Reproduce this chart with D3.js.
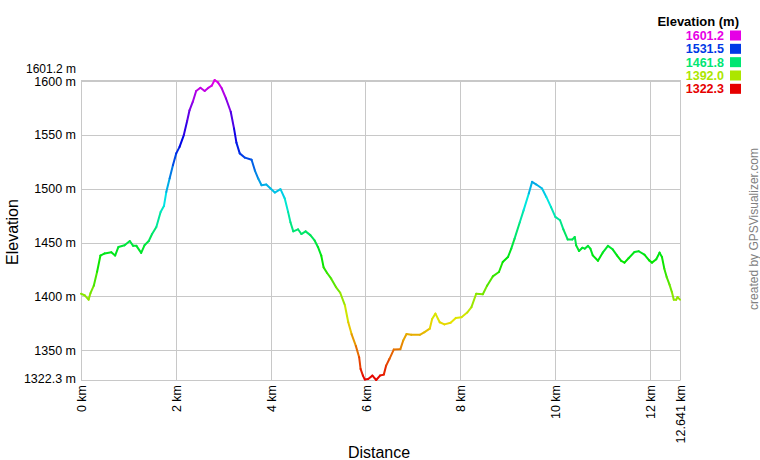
<!DOCTYPE html>
<html>
<head>
<meta charset="utf-8">
<script src="https://cdn.jsdelivr.net/npm/d3@7"></script>
<style>
  html, body { margin: 0; padding: 0; background: #fff; }
  svg { display: block; font-family: "Liberation Sans", Arial, sans-serif; }
</style>
</head>
<body>
<svg id="chart" width="760" height="460"></svg>
<script>
// ---- data ----
const distanceKm = [0, 0.08, 0.16, 0.2, 0.27, 0.34, 0.41, 0.5, 0.64, 0.72, 0.79, 0.92, 1.03, 1.10, 1.17, 1.27, 1.34, 1.43, 1.50, 1.59,
  1.68, 1.75, 1.80, 1.87, 1.94, 2.01, 2.08, 2.17, 2.24, 2.29, 2.36, 2.43, 2.52, 2.61, 2.69, 2.76, 2.82, 2.89, 2.97, 3.06,
  3.16, 3.23, 3.28, 3.35, 3.46, 3.60, 3.67, 3.74, 3.81, 3.91, 4.00, 4.09, 4.21, 4.30, 4.37, 4.42, 4.48, 4.58, 4.65, 4.74,
  4.84, 4.93, 5.00, 5.07, 5.12, 5.19, 5.28, 5.38, 5.47, 5.57, 5.64, 5.71, 5.80, 5.87, 5.90, 5.95, 5.99, 6.06, 6.15, 6.23,
  6.31, 6.39, 6.44, 6.51, 6.60, 6.74, 6.80, 6.87, 6.97, 7.15, 7.25, 7.36, 7.41, 7.48, 7.57, 7.67, 7.80, 7.91, 8.03, 8.15,
  8.24, 8.34, 8.48, 8.57, 8.69, 8.82, 8.90, 9.01, 9.08, 9.15, 9.26, 9.34, 9.45, 9.52, 9.61, 9.73, 9.82, 9.92, 10.01, 10.11,
  10.18, 10.27, 10.37, 10.42, 10.45, 10.51, 10.58, 10.63, 10.70, 10.75, 10.80, 10.91, 11.01, 11.12, 11.22, 11.31, 11.40, 11.47, 11.56, 11.68,
  11.77, 11.89, 11.99, 12.05, 12.14, 12.21, 12.26, 12.31, 12.36, 12.42, 12.47, 12.51, 12.56, 12.59, 12.641];
const elevationM = [1402.5, 1401, 1397, 1403, 1410, 1423, 1438, 1440, 1441, 1438, 1446, 1447.5, 1451.5, 1447, 1447, 1440.5, 1447.5, 1451.5, 1458, 1464.5,
  1478.5, 1484, 1497, 1509.6, 1522, 1533, 1539, 1550, 1563, 1573, 1581, 1591, 1594, 1591, 1594, 1596, 1601.2, 1599, 1593.5, 1584,
  1571.7, 1556, 1543, 1533, 1529, 1527, 1517, 1509.6, 1503.4, 1504, 1500.3, 1496.6, 1499.7, 1491, 1478.6, 1469, 1460.5, 1462.4, 1458, 1460.5,
  1457, 1452, 1446, 1438, 1427, 1422, 1416.5, 1408.7, 1403.4, 1391.6, 1376, 1365, 1354, 1343.5, 1332.6, 1326.4, 1322.7, 1323.3, 1326.4, 1322.3,
  1326.4, 1327.3, 1335.7, 1342, 1350.6, 1351, 1359, 1365, 1364.3, 1364.3, 1366.8, 1370, 1379, 1384, 1376, 1374, 1375.5, 1380, 1380.7, 1385,
  1390, 1402.5, 1402, 1410, 1418.6, 1422.7, 1432, 1436.6, 1444.4, 1453.7, 1469, 1480, 1495.7, 1506.5, 1504, 1500.3, 1492.5, 1483, 1474, 1470.8,
  1462.4, 1453, 1453, 1455.3, 1447.5, 1442.2, 1445.3, 1444.4, 1447, 1444.4, 1438.2, 1433.2, 1440.7, 1447, 1443.8, 1438.2, 1433, 1431.4, 1435.7, 1441.3,
  1442, 1438.8, 1433.5, 1431.4, 1434.5, 1440.7, 1436.6, 1425.8, 1418, 1411, 1404, 1397, 1397, 1399.4, 1397];

const xTicks = [0, 2, 4, 6, 8, 10, 12, 12.641];
const xTickLabels = ["0 km", "2 km", "4 km", "6 km", "8 km", "10 km", "12 km", "12.641 km"];
const yTicks = [1350, 1400, 1450, 1500, 1550, 1600];
const yMin = 1322.3, yMax = 1601.2;
const legendValues = [1601.2, 1531.5, 1461.8, 1392.0, 1322.3];

// ---- layout ----
const svg = d3.select("#chart");
const plotLeft = 81, plotRight = 680, plotTop = 80, plotBottom = 380;

const x = d3.scaleLinear().domain([0, 12.641]).range([plotLeft, plotRight]);
const y = d3.scaleLinear().domain([yMin, yMax]).range([plotBottom, plotTop]);
const hue = d3.scaleLinear().domain([yMin, yMax]).range([0, 300]);
const colorOf = v => d3.hsl(hue(v), 1, 0.45).formatHex();

const gridColor = "#c8c8c8";

// horizontal grid
const gGrid = svg.append("g");
[yMin, ...yTicks, yMax].forEach(v => {
  gGrid.append("line")
    .attr("x1", plotLeft).attr("x2", plotRight)
    .attr("y1", Math.round(y(v)) + 0.5).attr("y2", Math.round(y(v)) + 0.5)
    .attr("stroke", gridColor).attr("stroke-width", 1);
});
// vertical grid
xTicks.forEach(v => {
  gGrid.append("line")
    .attr("x1", Math.round(x(v)) + 0.5).attr("x2", Math.round(x(v)) + 0.5)
    .attr("y1", plotTop).attr("y2", plotBottom + 0.5)
    .attr("stroke", gridColor).attr("stroke-width", 1);
});

// y tick labels
const yLab = svg.append("g").attr("font-size", "12.5px").attr("fill", "#000").attr("text-anchor", "end");
yTicks.forEach(v => {
  yLab.append("text").attr("x", 76).attr("y", y(v)).attr("dy", "0.35em").text(v + " m");
});
yLab.append("text").attr("x", 76).attr("y", y(yMax) - 11).attr("dy", "0.35em").attr("font-size", "12px").text(yMax.toFixed(1) + " m");
yLab.append("text").attr("x", 76).attr("y", y(yMin) - 1).attr("dy", "0.35em").text(yMin.toFixed(1) + " m");

// x tick labels
const xLab = svg.append("g").attr("font-size", "12.5px").attr("fill", "#000");
xTicks.forEach((v, i) => {
  const px = x(v) + 1;
  xLab.append("text")
    .attr("transform", `translate(${px},385) rotate(-90)`)
    .attr("text-anchor", "end").attr("dy", "0.35em")
    .text(xTickLabels[i]);
});

// profile line, coloured by elevation
const pts = distanceKm.map((d, i) => [d, elevationM[i]]);
const gLine = svg.append("g");
for (let i = 0; i < pts.length - 1; i++) {
  const a = pts[i], b = pts[i + 1];
  gLine.append("line")
    .attr("x1", x(a[0])).attr("y1", y(a[1]))
    .attr("x2", x(b[0])).attr("y2", y(b[1]))
    .attr("stroke", colorOf((a[1] + b[1]) / 2))
    .attr("stroke-width", 2)
    .attr("stroke-linecap", "round");
}

// axis titles
svg.append("text").attr("x", 379).attr("y", 458).attr("text-anchor", "middle")
  .attr("font-size", "16px").text("Distance");
svg.append("text").attr("transform", "translate(18,232) rotate(-90)")
  .attr("text-anchor", "middle").attr("font-size", "16px").text("Elevation");

// credit
svg.append("text").attr("transform", "translate(758,229) rotate(-90)")
  .attr("text-anchor", "middle").attr("font-size", "12px").attr("fill", "#808080")
  .text("created by GPSVisualizer.com");

// legend
svg.append("text").attr("x", 739).attr("y", 26).attr("text-anchor", "end")
  .attr("font-size", "13px").attr("font-weight", "bold").text("Elevation (m)");
legendValues.forEach((v, i) => {
  const by = 40 + i * 13.33;
  svg.append("text").attr("x", 724).attr("y", by).attr("text-anchor", "end")
    .attr("font-size", "12.5px").attr("font-weight", "bold").attr("fill", colorOf(v))
    .text(v.toFixed(1));
  svg.append("rect").attr("x", 730).attr("y", by - 9.5).attr("width", 11).attr("height", 10)
    .attr("fill", colorOf(v));
});
</script>
</body>
</html>
